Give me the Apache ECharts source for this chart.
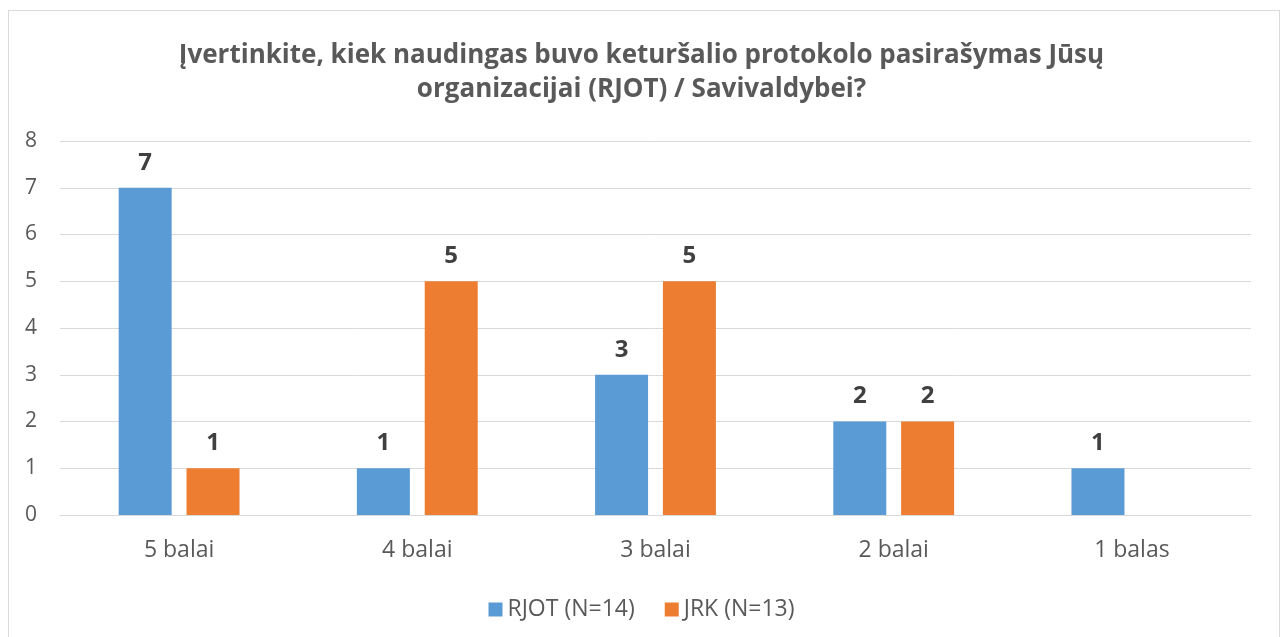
<!DOCTYPE html>
<html>
<head>
<meta charset="utf-8">
<script src="https://cdn.jsdelivr.net/npm/echarts@6/dist/echarts.min.js"></script>
<style>
  html, body { margin: 0; padding: 0; background: #fff; }
  #chart { width: 1283px; height: 637px; }
  #frame {
    position: absolute; left: 8px; top: 10px; width: 1270px; height: 640px;
    border: 1px solid #d9d9d9; pointer-events: none;
  }
</style>
</head>
<body>
<div id="chart"></div>
<div id="frame"></div>
<script>
// values
var categories = ['5 balai', '4 balai', '3 balai', '2 balai', '1 balas']
var seriesNames = ['RJOT (N=14)', 'JRK (N=13)']
var rjot = [7, 1, 3, 2, 1]
var jrk = [1, 5, 5, 2, null]
var yTicks = [0, 1, 2, 3, 4, 5, 6, 7, 8]

var font = 'Open Sans, Noto Sans, sans-serif'
var chart = echarts.init(document.getElementById('chart'))

function barLabel () {
  return {
    show: true,
    position: 'top',
    distance: 13,
    color: '#404040',
    fontSize: 24,
    fontWeight: 'bold',
    fontFamily: font
  }
}

chart.setOption({
  animation: false,
  color: ['#5b9bd5', '#ed7d31'],
  title: {
    text: 'Įvertinkite, kiek naudingas buvo keturšalio protokolo pasirašymas Jūsų\norganizacijai (RJOT) / Savivaldybei?',
    left: 'center',
    top: 34,
    textStyle: {
      color: '#595959',
      fontSize: 26,
      fontWeight: 'bold',
      fontFamily: font,
      lineHeight: 34
    }
  },
  legend: {
    data: seriesNames,
    top: 593,
    left: 'center',
    itemWidth: 14,
    itemHeight: 14,
    itemGap: 30,
    icon: 'rect',
    textStyle: { color: '#595959', fontSize: 23, fontFamily: font }
  },
  grid: { left: 60, right: 32, top: 141, bottom: 122 },
  xAxis: {
    type: 'category',
    data: categories,
    axisLine: { lineStyle: { color: '#d9d9d9', width: 1 } },
    axisTick: { show: false },
    axisLabel: { color: '#595959', fontSize: 23, margin: 24, fontFamily: font }
  },
  yAxis: {
    type: 'value',
    min: yTicks[0],
    max: yTicks[yTicks.length - 1],
    interval: 1,
    axisLine: { show: false },
    axisTick: { show: false },
    splitLine: { lineStyle: { color: '#d9d9d9', width: 1 } },
    axisLabel: { color: '#595959', fontSize: 21, margin: 23, fontFamily: font }
  },
  series: [
    {
      name: seriesNames[0],
      type: 'bar',
      data: rjot,
      barWidth: 53,
      barGap: '28%',
      label: barLabel()
    },
    {
      name: seriesNames[1],
      type: 'bar',
      data: jrk,
      barWidth: 53,
      barGap: '28%',
      label: barLabel()
    }
  ]
})
</script>
</body>
</html>
